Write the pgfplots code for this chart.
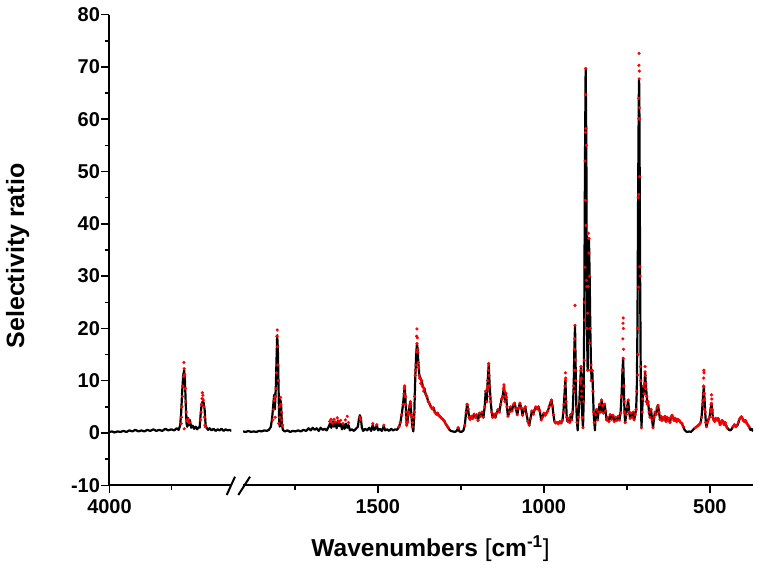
\documentclass[border=0pt]{standalone}
\usepackage{fontspec}
\setmainfont{Liberation Sans}
\usepackage{pgfplots}
\pgfplotsset{compat=1.18}
\usepackage{pgfplotstable}

% O-H stretch region (left of the break)
\pgfplotstableread{
x y
4000 0.2
3990 0.3
3980 0.1
3968 0.3
3956 0.2
3944 0.4
3932 0.2
3920 0.5
3908 0.3
3896 0.6
3884 0.3
3872 0.5
3860 0.3
3848 0.6
3836 0.4
3824 0.7
3812 0.4
3800 0.6
3788 0.4
3776 0.8
3764 0.5
3752 0.7
3740 0.5
3730 0.9
3722 0.6
3716 1.5
3712 4.0
3708 8.0
3704 11.0
3700 12.0
3697 10.0
3694 6.0
3691 2.0
3688 1.2
3685 2.9
3681 1.5
3677 2.5
3672 1.0
3666 1.4
3660 0.8
3654 1.2
3648 0.7
3642 1.1
3638 1.0
3634 3.5
3630 5.5
3626 6.0
3622 5.8
3618 4.5
3614 1.5
3610 1.0
3604 0.6
3598 0.9
3590 0.5
3582 0.8
3574 0.4
3566 0.7
3558 0.5
3550 0.8
3542 0.4
3534 0.7
3526 0.5
3518 0.6
3510 0.4
}\leftblack

\pgfplotstableread{
x y
3701 13.5
3700 12.3
3703 10.8
3698 11.2
3705 9.0
3696 8.5
3707 7.0
3694 6.0
3709 5.0
3692 4.0
3711 3.0
3690 2.5
3712 1.8
3686 2.2
3683 2.6
3680 2.0
3700 0.8
3627 7.7
3625 7.2
3628 6.6
3623 6.3
3630 5.5
3621 5.0
3632 4.0
3619 3.0
3634 2.5
3617 1.5
3615 1.2
}\leftred

% fingerprint region (right of the break)
\pgfplotstableread{
x y
1906 0.3
1898 0.2
1890 0.4
1882 0.2
1874 0.3
1866 0.2
1858 0.4
1850 0.3
1842 0.5
1834 0.4
1828 0.6
1822 1.2
1818 3.0
1814 6.0
1812 7.3
1810 4.5
1807 9.0
1805 14.0
1803 18.7
1801 16.0
1799 9.0
1797 2.0
1795 1.2
1793 6.3
1791 5.0
1789 2.0
1786 0.6
1780 0.3
1772 0.5
1764 0.2
1756 0.4
1748 0.3
1740 0.5
1732 0.3
1724 0.6
1716 0.4
1708 0.9
1702 0.5
1696 1.0
1690 0.6
1684 0.9
1678 0.4
1672 1.0
1666 0.6
1660 0.8
1654 0.5
1648 1.2
1644 1.8
1640 1.0
1636 2.2
1632 1.2
1628 2.0
1624 0.9
1620 2.4
1616 1.3
1612 1.8
1608 0.7
1604 1.6
1600 0.8
1596 1.8
1592 1.0
1588 1.5
1584 0.5
1578 0.7
1572 0.4
1566 0.8
1560 1.2
1557 2.6
1554 3.4
1551 2.8
1548 1.0
1544 0.4
1538 0.8
1532 0.5
1526 1.0
1520 0.4
1515 1.6
1511 0.6
1506 0.9
1503 1.5
1499 0.5
1494 0.8
1488 0.4
1482 1.3
1478 0.5
1472 0.7
1466 0.4
1460 0.8
1454 0.5
1448 0.7
1442 0.6
1436 1.2
1432 2.0
1428 3.5
1424 5.5
1421 7.5
1419 8.8
1417 7.0
1415 4.0
1413 1.5
1411 2.0
1408 3.5
1405 5.0
1402 6.0
1399 3.5
1396 1.2
1393 0.3
1390 4.0
1387 11.0
1384 15.5
1382 17.1
1380 16.0
1378 13.5
1375 11.0
1372 10.5
1368 10.0
1364 8.8
1360 8.5
1356 7.5
1352 6.9
1348 6.0
1344 5.6
1340 5.0
1336 4.6
1332 4.8
1328 4.0
1324 3.6
1320 3.8
1316 3.3
1312 3.1
1308 2.8
1304 2.6
1300 2.3
1296 1.8
1292 1.4
1288 1.0
1284 0.6
1280 0.4
1274 0.3
1268 0.2
1262 0.4
1258 1.0
1254 0.3
1248 0.2
1242 0.5
1238 1.5
1234 4.0
1231 5.5
1228 4.6
1225 3.0
1222 2.6
1218 3.2
1214 2.8
1210 3.6
1206 3.0
1202 3.5
1198 2.4
1194 3.8
1190 3.2
1186 4.0
1182 3.0
1178 5.0
1175 8.0
1172 6.0
1169 10.0
1166 13.0
1163 9.0
1160 6.0
1157 4.0
1154 3.0
1150 3.6
1146 3.0
1142 3.8
1138 4.5
1134 4.0
1130 5.5
1127 6.5
1124 7.0
1120 8.8
1117 6.0
1114 7.6
1111 5.0
1108 3.2
1104 4.0
1100 5.0
1096 4.2
1092 5.4
1088 5.7
1084 4.6
1080 3.5
1076 4.8
1072 5.7
1068 4.8
1064 3.4
1060 4.5
1056 5.0
1052 3.6
1048 2.2
1044 1.5
1040 2.8
1036 4.2
1032 3.6
1028 4.4
1024 5.0
1020 4.6
1016 5.0
1012 4.2
1008 2.5
1004 3.0
1000 3.8
996 3.4
992 3.8
988 4.2
984 5.0
980 5.8
977 6.3
974 5.2
971 3.5
968 2.2
964 1.9
960 2.0
956 1.8
952 2.2
948 1.9
944 2.4
941 4.0
938 7.0
935 10.1
933 6.0
931 3.0
928 2.2
925 2.8
922 2.0
919 3.5
916 2.5
913 4.0
910 9.0
908 16.0
906 20.6
904 12.0
902 5.0
900 2.0
898 0.5
896 3.0
893 6.0
890 10.0
888 12.7
886 7.0
884 3.0
882 1.0
880 6.0
878 25.0
876 52.0
874 69.7
872 55.0
870 20.0
868 12.0
866 28.0
864 37.2
862 30.0
860 20.0
858 13.0
856 10.0
854 12.0
852 8.0
850 4.0
848 2.0
846 0.5
844 3.5
841 4.5
838 2.5
835 4.0
832 5.5
829 4.0
826 6.3
823 5.2
820 3.8
817 5.5
814 4.2
811 2.5
808 3.0
804 2.2
800 3.5
796 2.6
792 3.4
788 2.2
784 3.0
780 2.4
776 3.2
772 2.5
769 3.8
766 7.0
763 12.0
761 14.3
759 9.0
757 4.0
755 2.0
752 3.5
749 5.0
746 6.3
743 4.0
740 2.8
737 3.8
734 3.0
731 4.0
728 2.5
725 3.5
722 4.5
720 8.0
718 20.0
716 45.0
714 64.0
713 67.7
712 60.0
710 30.0
708 10.0
706 1.0
704 4.0
702 6.5
700 9.0
698 7.5
695 11.7
693 9.5
690 7.0
688 5.5
686 6.0
683 4.0
680 3.0
677 4.5
674 2.5
671 1.0
668 3.0
665 4.0
662 3.5
659 4.8
656 5.3
653 4.0
650 2.6
647 3.2
644 2.4
641 3.0
638 2.6
635 3.2
632 2.2
629 3.0
626 2.4
623 2.8
620 2.0
617 3.0
614 3.4
611 3.0
608 2.4
604 2.8
600 2.2
596 2.6
592 2.4
588 2.0
584 1.8
580 1.2
576 0.6
572 0.3
567 0.2
562 0.3
557 0.2
552 0.5
548 0.8
544 1.0
540 1.2
536 1.4
532 1.6
528 2.0
525 3.0
522 5.5
520 7.5
518 8.8
516 6.5
514 4.0
512 2.0
510 1.2
507 2.0
504 2.6
501 3.0
498 4.5
495 5.7
493 4.5
491 3.0
488 2.5
485 2.2
482 2.8
478 2.5
475 2.8
472 2.2
469 1.6
466 2.0
463 2.4
460 2.2
457 1.6
454 2.0
451 1.4
448 1.0
445 0.8
442 0.6
438 0.5
434 0.8
430 1.2
426 1.6
422 1.2
418 1.4
414 2.0
411 2.6
408 2.9
405 3.1
402 2.8
399 2.4
396 2.2
393 2.4
390 2.0
386 1.6
382 1.2
378 0.6
374 0.8
370 0.3
}\rightblack

\pgfplotstableread{
x y
1803 19.7
1804 18.5
1802 16.5
1801 13.0
1800 10.0
1805 11.5
1806 8.5
1808 7.0
1810 6.8
1812 6.2
1814 4.5
1816 2.5
1809 3.0
1797 5.0
1795 3.0
1793 6.8
1792 5.5
1790 4.0
1789 2.5
1787 1.5
1799 1.8
1645 2.2
1641 2.6
1637 1.9
1632 2.6
1628 2.1
1622 2.9
1618 2.2
1612 2.4
1605 1.8
1598 2.5
1592 3.2
1588 2.0
1555 3.0
1552 2.6
1515 1.8
1503 1.6
1482 1.5
1420 8.5
1419 9.0
1418 7.0
1416 5.5
1414 3.0
1410 2.2
1407 4.0
1404 5.0
1401 5.5
1398 3.0
1395 2.0
1391 3.0
1389 7.0
1386 12.0
1385 13.0
1383 18.5
1382 19.9
1381 18.2
1379 15.5
1377 12.5
1374 10.5
1371 9.5
1366 9.0
1362 8.0
1170 8.5
1168 9.0
1167 12.0
1166 13.3
1165 11.0
1163 7.0
1121 8.5
1120 9.2
1118 8.0
1116 7.0
1113 6.8
939 5.5
937 7.0
936 9.0
935 11.5
934 10.5
909 8.0
908 12.0
907 18.0
906 24.4
905 14.0
904 10.0
889 9.5
888 12.0
887 10.5
886 8.0
879 9.0
878 13.9
877 21.6
876 31.7
875 44.5
874.5 57.5
874 64.7
873.5 58.2
873 39.7
872 29.2
871 28.0
868 22.9
866 38.2
865 37.2
864 34.4
862 17.2
860 12.0
857 10.0
763 12.0
762 18.0
761.5 21.0
761 22.0
760.5 20.0
760 16.0
759 9.0
758 6.0
717 11.1
716 15.0
715 27.9
714.5 45.6
714 60.1
713.5 70.3
713 72.6
712.5 69.2
712 62.2
711.5 49.0
711 31.8
709 12.7
697 7.5
696 9.5
695 12.7
694 11.0
693 8.5
692 6.0
520 6.2
519 9.0
518.5 10.5
518 12.0
517.5 11.5
517 7.5
516 4.5
497 4.0
496 5.5
495 7.3
494 6.5
493 4.2
}\rightred

\pgfplotsset{
  spec/.style={
    scale only axis, height=470.7bp,
    ymin=-10, ymax=80,
    x dir=reverse,
    axis x line*=bottom,
    tick align=outside,
    major tick length=8bp, minor tick length=4.5bp,
    tick style={black, line width=1.5bp},
    axis line style={black, line width=2bp},
    tick label style={font=\fontsize{20bp}{22bp}\selectfont\bfseries},
    xticklabel style={yshift=-3bp},
    yticklabel style={xshift=2bp},
    /pgf/number format/assume math mode=true,
    /pgf/number format/1000 sep={},
  },
  blk/.style={black, line width=2.2bp, line join=round, no marks},
  rd/.style={only marks, mark=*, mark size=1.4bp, red, mark options={fill=red, draw=none}},
}

\begin{document}
\begin{tikzpicture}
\path[use as bounding box] (0,0) rectangle (759bp,573bp);

\begin{axis}[spec, at={(109.5bp,87.7bp)}, anchor=south west, width=122bp,
  xmin=3510, xmax=4000, xtick={4000}, minor xtick={3750},
  axis y line*=left, ytick={-10,0,...,80}, minor ytick={-5,5,...,75}]
  \addplot[blk] table {\leftblack};
  \addplot[rd] table {\leftred};
\end{axis}

\begin{axis}[spec, at={(243bp,87.7bp)}, anchor=south west, width=510bp,
  xmin=370, xmax=1906, xtick={500,1000,1500}, minor xtick={750,1250,1750},
  axis y line=none]
  \addplot[blk] table {\rightblack};
  \addplot[rd, restrict x to domain=370:1440, restrict y to domain=0.9:100] table {\rightblack};
  \addplot[rd] table {\rightred};
\end{axis}

% axis break marks
\draw[line width=2bp] (226.7bp,78bp) -- (235bp,96.3bp);
\draw[line width=2bp] (238.3bp,78bp) -- (250bp,96.3bp);

\node[rotate=90, anchor=base, font=\fontsize{25bp}{27bp}\selectfont\bfseries]
  at (24bp,317bp) {Selectivity ratio};
\node[anchor=base, font=\fontsize{24.5bp}{26bp}\selectfont]
  at (430.5bp,16.3bp) {\textbf{Wavenumbers} [\textbf{cm}\textsuperscript{\textbf{-1}}]};
\end{tikzpicture}
\end{document}
